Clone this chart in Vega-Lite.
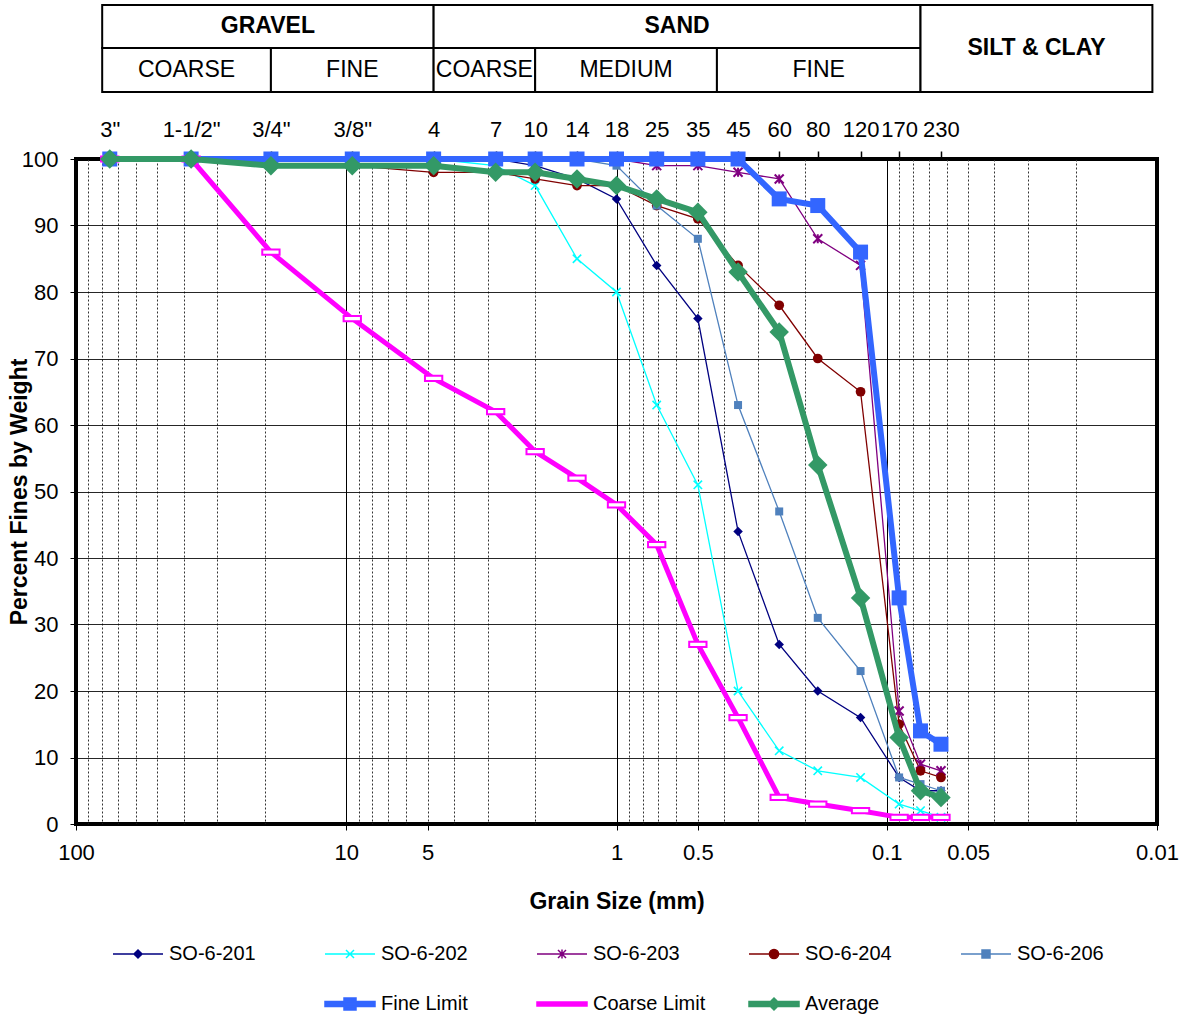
{
  "$schema": "https://vega.github.io/schema/vega-lite/v6.json",
  "autosize": "none",
  "width": 1081,
  "height": 665,
  "padding": {"left": 76, "top": 159, "right": 30, "bottom": 193},
  "background": "white",
  "config": {
    "view": {"stroke": "#000", "strokeWidth": 4},
    "axis": {"labelFont": "Liberation Sans", "labelFontSize": 22, "labelColor": "#000", "titleFont": "Liberation Sans", "titleFontSize": 23, "titleFontWeight": "bold", "titleColor": "#000", "tickColor": "#000", "domain": false, "labelOverlap": false, "labelFlush": false, "labelBound": false},
    "text": {"font": "Liberation Sans", "color": "#000"}
  },
  "datasets": {
    "grad": [
      {"series": "Fine Limit", "mm": 75, "pct": 100}, {"series": "Fine Limit", "mm": 37.5, "pct": 100}, {"series": "Fine Limit", "mm": 19, "pct": 100}, {"series": "Fine Limit", "mm": 9.5, "pct": 100}, {"series": "Fine Limit", "mm": 4.75, "pct": 100}, {"series": "Fine Limit", "mm": 2.8, "pct": 100}, {"series": "Fine Limit", "mm": 2, "pct": 100}, {"series": "Fine Limit", "mm": 1.4, "pct": 100}, {"series": "Fine Limit", "mm": 1, "pct": 100}, {"series": "Fine Limit", "mm": 0.71, "pct": 100}, {"series": "Fine Limit", "mm": 0.5, "pct": 100}, {"series": "Fine Limit", "mm": 0.355, "pct": 100}, {"series": "Fine Limit", "mm": 0.25, "pct": 94}, {"series": "Fine Limit", "mm": 0.18, "pct": 93}, {"series": "Fine Limit", "mm": 0.125, "pct": 86}, {"series": "Fine Limit", "mm": 0.09, "pct": 34}, {"series": "Fine Limit", "mm": 0.075, "pct": 14}, {"series": "Fine Limit", "mm": 0.063, "pct": 12},
      {"series": "Coarse Limit", "mm": 75, "pct": 100}, {"series": "Coarse Limit", "mm": 37.5, "pct": 100}, {"series": "Coarse Limit", "mm": 19, "pct": 86}, {"series": "Coarse Limit", "mm": 9.5, "pct": 76}, {"series": "Coarse Limit", "mm": 4.75, "pct": 67}, {"series": "Coarse Limit", "mm": 2.8, "pct": 62}, {"series": "Coarse Limit", "mm": 2, "pct": 56}, {"series": "Coarse Limit", "mm": 1.4, "pct": 52}, {"series": "Coarse Limit", "mm": 1, "pct": 48}, {"series": "Coarse Limit", "mm": 0.71, "pct": 42}, {"series": "Coarse Limit", "mm": 0.5, "pct": 27}, {"series": "Coarse Limit", "mm": 0.355, "pct": 16}, {"series": "Coarse Limit", "mm": 0.25, "pct": 4}, {"series": "Coarse Limit", "mm": 0.18, "pct": 3}, {"series": "Coarse Limit", "mm": 0.125, "pct": 2}, {"series": "Coarse Limit", "mm": 0.09, "pct": 1}, {"series": "Coarse Limit", "mm": 0.075, "pct": 1}, {"series": "Coarse Limit", "mm": 0.063, "pct": 1},
      {"series": "Average", "mm": 75, "pct": 100}, {"series": "Average", "mm": 37.5, "pct": 100}, {"series": "Average", "mm": 19, "pct": 99}, {"series": "Average", "mm": 9.5, "pct": 99}, {"series": "Average", "mm": 4.75, "pct": 99}, {"series": "Average", "mm": 2.8, "pct": 98}, {"series": "Average", "mm": 2, "pct": 98}, {"series": "Average", "mm": 1.4, "pct": 97}, {"series": "Average", "mm": 1, "pct": 96}, {"series": "Average", "mm": 0.71, "pct": 94}, {"series": "Average", "mm": 0.5, "pct": 92}, {"series": "Average", "mm": 0.355, "pct": 83}, {"series": "Average", "mm": 0.25, "pct": 74}, {"series": "Average", "mm": 0.18, "pct": 54}, {"series": "Average", "mm": 0.125, "pct": 34}, {"series": "Average", "mm": 0.09, "pct": 13}, {"series": "Average", "mm": 0.075, "pct": 5}, {"series": "Average", "mm": 0.063, "pct": 4},
      {"series": "SO-6-201", "mm": 37.5, "pct": 100}, {"series": "SO-6-201", "mm": 19, "pct": 100}, {"series": "SO-6-201", "mm": 9.5, "pct": 100}, {"series": "SO-6-201", "mm": 4.75, "pct": 100}, {"series": "SO-6-201", "mm": 2.8, "pct": 100}, {"series": "SO-6-201", "mm": 2, "pct": 99}, {"series": "SO-6-201", "mm": 1.4, "pct": 97}, {"series": "SO-6-201", "mm": 1, "pct": 94}, {"series": "SO-6-201", "mm": 0.71, "pct": 84}, {"series": "SO-6-201", "mm": 0.5, "pct": 76}, {"series": "SO-6-201", "mm": 0.355, "pct": 44}, {"series": "SO-6-201", "mm": 0.25, "pct": 27}, {"series": "SO-6-201", "mm": 0.18, "pct": 20}, {"series": "SO-6-201", "mm": 0.125, "pct": 16}, {"series": "SO-6-201", "mm": 0.09, "pct": 7}, {"series": "SO-6-201", "mm": 0.075, "pct": 5}, {"series": "SO-6-201", "mm": 0.063, "pct": 5},
      {"series": "SO-6-202", "mm": 37.5, "pct": 100}, {"series": "SO-6-202", "mm": 19, "pct": 100}, {"series": "SO-6-202", "mm": 9.5, "pct": 100}, {"series": "SO-6-202", "mm": 4.75, "pct": 100}, {"series": "SO-6-202", "mm": 2.8, "pct": 99}, {"series": "SO-6-202", "mm": 2, "pct": 96}, {"series": "SO-6-202", "mm": 1.4, "pct": 85}, {"series": "SO-6-202", "mm": 1, "pct": 80}, {"series": "SO-6-202", "mm": 0.71, "pct": 63}, {"series": "SO-6-202", "mm": 0.5, "pct": 51}, {"series": "SO-6-202", "mm": 0.355, "pct": 20}, {"series": "SO-6-202", "mm": 0.25, "pct": 11}, {"series": "SO-6-202", "mm": 0.18, "pct": 8}, {"series": "SO-6-202", "mm": 0.125, "pct": 7}, {"series": "SO-6-202", "mm": 0.09, "pct": 3}, {"series": "SO-6-202", "mm": 0.075, "pct": 2}, {"series": "SO-6-202", "mm": 0.063, "pct": 1},
      {"series": "SO-6-203", "mm": 37.5, "pct": 100}, {"series": "SO-6-203", "mm": 19, "pct": 100}, {"series": "SO-6-203", "mm": 9.5, "pct": 100}, {"series": "SO-6-203", "mm": 4.75, "pct": 100}, {"series": "SO-6-203", "mm": 2.8, "pct": 100}, {"series": "SO-6-203", "mm": 2, "pct": 100}, {"series": "SO-6-203", "mm": 1.4, "pct": 100}, {"series": "SO-6-203", "mm": 1, "pct": 100}, {"series": "SO-6-203", "mm": 0.71, "pct": 99}, {"series": "SO-6-203", "mm": 0.5, "pct": 99}, {"series": "SO-6-203", "mm": 0.355, "pct": 98}, {"series": "SO-6-203", "mm": 0.25, "pct": 97}, {"series": "SO-6-203", "mm": 0.18, "pct": 88}, {"series": "SO-6-203", "mm": 0.125, "pct": 84}, {"series": "SO-6-203", "mm": 0.09, "pct": 17}, {"series": "SO-6-203", "mm": 0.075, "pct": 9}, {"series": "SO-6-203", "mm": 0.063, "pct": 8},
      {"series": "SO-6-204", "mm": 37.5, "pct": 100}, {"series": "SO-6-204", "mm": 19, "pct": 99}, {"series": "SO-6-204", "mm": 9.5, "pct": 99}, {"series": "SO-6-204", "mm": 4.75, "pct": 98}, {"series": "SO-6-204", "mm": 2.8, "pct": 98}, {"series": "SO-6-204", "mm": 2, "pct": 97}, {"series": "SO-6-204", "mm": 1.4, "pct": 96}, {"series": "SO-6-204", "mm": 1, "pct": 96}, {"series": "SO-6-204", "mm": 0.71, "pct": 93}, {"series": "SO-6-204", "mm": 0.5, "pct": 91}, {"series": "SO-6-204", "mm": 0.355, "pct": 84}, {"series": "SO-6-204", "mm": 0.25, "pct": 78}, {"series": "SO-6-204", "mm": 0.18, "pct": 70}, {"series": "SO-6-204", "mm": 0.125, "pct": 65}, {"series": "SO-6-204", "mm": 0.09, "pct": 15}, {"series": "SO-6-204", "mm": 0.075, "pct": 8}, {"series": "SO-6-204", "mm": 0.063, "pct": 7},
      {"series": "SO-6-206", "mm": 37.5, "pct": 100}, {"series": "SO-6-206", "mm": 19, "pct": 100}, {"series": "SO-6-206", "mm": 9.5, "pct": 100}, {"series": "SO-6-206", "mm": 4.75, "pct": 100}, {"series": "SO-6-206", "mm": 2.8, "pct": 100}, {"series": "SO-6-206", "mm": 2, "pct": 100}, {"series": "SO-6-206", "mm": 1.4, "pct": 100}, {"series": "SO-6-206", "mm": 1, "pct": 99}, {"series": "SO-6-206", "mm": 0.71, "pct": 93}, {"series": "SO-6-206", "mm": 0.5, "pct": 88}, {"series": "SO-6-206", "mm": 0.355, "pct": 63}, {"series": "SO-6-206", "mm": 0.25, "pct": 47}, {"series": "SO-6-206", "mm": 0.18, "pct": 31}, {"series": "SO-6-206", "mm": 0.125, "pct": 23}, {"series": "SO-6-206", "mm": 0.09, "pct": 7}, {"series": "SO-6-206", "mm": 0.075, "pct": 6}, {"series": "SO-6-206", "mm": 0.063, "pct": 5}
    ],
    "table": [
      {"label": "GRAVEL", "tier": "top", "from": 80, "to": 4.75},
      {"label": "SAND", "tier": "top", "from": 4.75, "to": 0.075},
      {"label": "COARSE", "tier": "bottom", "from": 80, "to": 19},
      {"label": "FINE", "tier": "bottom", "from": 19, "to": 4.75},
      {"label": "COARSE", "tier": "bottom", "from": 4.75, "to": 2},
      {"label": "MEDIUM", "tier": "bottom", "from": 2, "to": 0.425},
      {"label": "FINE", "tier": "bottom", "from": 0.425, "to": 0.075},
      {"label": "SILT & CLAY", "tier": "full", "from": 0.075, "to": 0.0104}
    ],
    "none": []
  },
  "resolve": {"axis": {"x": "independent"}},
  "layer": [
    {
      "data": {"name": "grad"},
      "transform": [{"filter": {"field": "series", "oneOf": ["SO-6-201", "SO-6-202", "SO-6-203", "SO-6-204", "SO-6-206"]}}],
      "mark": {"type": "line", "strokeWidth": 1.3},
      "encoding": {
        "x": {"field": "mm", "type": "quantitative", "scale": {"type": "log", "domain": [0.01, 100], "reverse": true, "nice": false},
          "axis": {"orient": "bottom", "values": [100, 10, 5, 1, 0.5, 0.1, 0.05, 0.01], "format": "~g", "grid": false, "ticks": true, "tickSize": 6, "labelPadding": 12, "title": "Grain Size (mm)", "titlePadding": 27}},
        "y": {"field": "pct", "type": "quantitative", "scale": {"domain": [0, 100], "nice": false},
          "axis": {"values": [0, 10, 20, 30, 40, 50, 60, 70, 80, 90, 100], "grid": true, "gridColor": "#000", "gridWidth": 1, "gridOpacity": 0.85, "ticks": true, "tickSize": 6, "labelPadding": 12, "title": "Percent Fines by Weight", "titlePadding": -10}},
        "color": {"field": "series", "type": "nominal", "legend": null,
          "scale": {"domain": ["SO-6-201", "SO-6-202", "SO-6-203", "SO-6-204", "SO-6-206"], "range": ["#000080", "#00FFFF", "#800080", "#800000", "#4F81BD"]}}
      }
    },
    {
      "data": {"name": "grad"},
      "transform": [{"filter": {"field": "series", "equal": "SO-6-201"}}],
      "mark": {"type": "point", "shape": "diamond", "filled": true, "color": "#000080", "size": 90, "opacity": 1},
      "encoding": {
        "x": {"field": "mm", "type": "quantitative", "scale": {"type": "log", "domain": [0.01, 100], "reverse": true, "nice": false},
          "axis": {"orient": "bottom", "values": [10, 1, 0.1], "grid": true, "gridColor": "#000", "gridWidth": 1, "labels": false, "ticks": false, "title": null}},
        "y": {"field": "pct", "type": "quantitative", "scale": {"domain": [0, 100], "nice": false}}
      }
    },
    {
      "data": {"name": "grad"},
      "transform": [{"filter": {"field": "series", "equal": "SO-6-202"}}],
      "mark": {"type": "point", "shape": "M-1,-1L1,1M-1,1L1,-1", "filled": false, "color": "#00FFFF", "size": 70, "strokeWidth": 1.6, "opacity": 1},
      "encoding": {
        "x": {"field": "mm", "type": "quantitative", "scale": {"type": "log", "domain": [0.01, 100], "reverse": true, "nice": false},
          "axis": {"orient": "bottom", "values": [90, 80, 70, 60, 50, 40, 30, 20, 9, 8, 7, 6, 5, 4, 3, 2, 0.9, 0.8, 0.7, 0.6, 0.5, 0.4, 0.3, 0.2, 0.09, 0.08, 0.07, 0.06, 0.05, 0.04, 0.03, 0.02], "grid": true, "gridColor": "#333", "gridDash": [2, 2], "gridWidth": 1, "labels": false, "ticks": false, "title": null}},
        "y": {"field": "pct", "type": "quantitative", "scale": {"domain": [0, 100], "nice": false}}
      }
    },
    {
      "data": {"name": "grad"},
      "transform": [{"filter": {"field": "series", "equal": "SO-6-203"}}],
      "mark": {"type": "point", "shape": "M-1,-1L1,1M-1,1L1,-1M0,-1L0,1", "filled": false, "color": "#800080", "size": 81, "strokeWidth": 2, "opacity": 1},
      "encoding": {
        "x": {"field": "mm", "type": "quantitative", "scale": {"type": "log", "domain": [0.01, 100], "reverse": true, "nice": false}, "axis": null},
        "y": {"field": "pct", "type": "quantitative", "scale": {"domain": [0, 100], "nice": false}}
      }
    },
    {
      "data": {"name": "grad"},
      "transform": [{"filter": {"field": "series", "equal": "SO-6-204"}}],
      "mark": {"type": "point", "shape": "circle", "filled": true, "color": "#800000", "size": 95, "opacity": 1},
      "encoding": {
        "x": {"field": "mm", "type": "quantitative", "scale": {"type": "log", "domain": [0.01, 100], "reverse": true, "nice": false}, "axis": null},
        "y": {"field": "pct", "type": "quantitative", "scale": {"domain": [0, 100], "nice": false}}
      }
    },
    {
      "data": {"name": "grad"},
      "transform": [{"filter": {"field": "series", "equal": "SO-6-206"}}],
      "mark": {"type": "point", "shape": "square", "filled": true, "color": "#4F81BD", "size": 64, "opacity": 1},
      "encoding": {
        "x": {"field": "mm", "type": "quantitative", "scale": {"type": "log", "domain": [0.01, 100], "reverse": true, "nice": false}, "axis": null},
        "y": {"field": "pct", "type": "quantitative", "scale": {"domain": [0, 100], "nice": false}}
      }
    },
    {
      "data": {"name": "grad"},
      "transform": [{"filter": {"field": "series", "equal": "Fine Limit"}}],
      "mark": {"type": "line", "color": "#3366FF", "strokeWidth": 6},
      "encoding": {
        "x": {"field": "mm", "type": "quantitative", "scale": {"type": "log", "domain": [0.01, 100], "reverse": true, "nice": false},
          "axis": {"orient": "top", "values": [75, 37.5, 19, 9.5, 4.75, 2.8, 2, 1.4, 1, 0.71, 0.5, 0.355, 0.25, 0.18, 0.125, 0.09, 0.063], "grid": false, "ticks": true, "tickSize": 8, "tickWidth": 1.5, "labelPadding": 10, "title": null,
            "labelExpr": "datum.value==75?'3\"':datum.value==37.5?'1-1/2\"':datum.value==19?'3/4\"':datum.value==9.5?'3/8\"':datum.value==4.75?'4':datum.value==2.8?'7':datum.value==2?'10':datum.value==1.4?'14':datum.value==1?'18':datum.value==0.71?'25':datum.value==0.5?'35':datum.value==0.355?'45':datum.value==0.25?'60':datum.value==0.18?'80':datum.value==0.125?'120':datum.value==0.09?'170':datum.value==0.063?'230':''"}},
        "y": {"field": "pct", "type": "quantitative", "scale": {"domain": [0, 100], "nice": false}}
      }
    },
    {
      "data": {"name": "grad"},
      "transform": [{"filter": {"field": "series", "equal": "Fine Limit"}}],
      "mark": {"type": "point", "shape": "square", "filled": true, "color": "#3366FF", "size": 225, "opacity": 1},
      "encoding": {
        "x": {"field": "mm", "type": "quantitative", "scale": {"type": "log", "domain": [0.01, 100], "reverse": true, "nice": false}, "axis": null},
        "y": {"field": "pct", "type": "quantitative", "scale": {"domain": [0, 100], "nice": false}}
      }
    },
    {
      "data": {"name": "grad"},
      "transform": [{"filter": {"field": "series", "equal": "Coarse Limit"}}],
      "mark": {"type": "line", "color": "#FF00FF", "strokeWidth": 5},
      "encoding": {
        "x": {"field": "mm", "type": "quantitative", "scale": {"type": "log", "domain": [0.01, 100], "reverse": true, "nice": false}, "axis": null},
        "y": {"field": "pct", "type": "quantitative", "scale": {"domain": [0, 100], "nice": false}}
      }
    },
    {
      "data": {"name": "grad"},
      "transform": [{"filter": {"field": "series", "equal": "Coarse Limit"}}],
      "mark": {"type": "point", "shape": "M-1,-0.3H1V0.3H-1Z", "fill": "white", "stroke": "#FF00FF", "strokeWidth": 2, "size": 300, "opacity": 1},
      "encoding": {
        "x": {"field": "mm", "type": "quantitative", "scale": {"type": "log", "domain": [0.01, 100], "reverse": true, "nice": false}, "axis": null},
        "y": {"field": "pct", "type": "quantitative", "scale": {"domain": [0, 100], "nice": false}}
      }
    },
    {
      "data": {"name": "grad"},
      "transform": [{"filter": {"field": "series", "equal": "Average"}}],
      "mark": {"type": "line", "color": "#339966", "strokeWidth": 6},
      "encoding": {
        "x": {"field": "mm", "type": "quantitative", "scale": {"type": "log", "domain": [0.01, 100], "reverse": true, "nice": false}, "axis": null},
        "y": {"field": "pct", "type": "quantitative", "scale": {"domain": [0, 100], "nice": false}}
      }
    },
    {
      "data": {"name": "grad"},
      "transform": [{"filter": {"field": "series", "equal": "Average"}}],
      "mark": {"type": "point", "shape": "diamond", "filled": true, "color": "#339966", "size": 380, "opacity": 1},
      "encoding": {
        "x": {"field": "mm", "type": "quantitative", "scale": {"type": "log", "domain": [0.01, 100], "reverse": true, "nice": false}, "axis": null},
        "y": {"field": "pct", "type": "quantitative", "scale": {"domain": [0, 100], "nice": false}}
      }
    },
    {
      "data": {"name": "table"},
      "transform": [{"filter": {"field": "tier", "equal": "top"}}],
      "mark": {"type": "rect", "fill": "white", "stroke": "#000", "strokeWidth": 2, "clip": false},
      "encoding": {
        "x": {"field": "from", "type": "quantitative", "scale": {"type": "log", "domain": [0.01, 100], "reverse": true, "nice": false}, "axis": null},
        "x2": {"field": "to"},
        "y": {"datum": 123.16, "type": "quantitative", "scale": {"domain": [0, 100], "nice": false}},
        "y2": {"datum": 116.7}
      }
    },
    {
      "data": {"name": "table"},
      "transform": [{"filter": {"field": "tier", "equal": "bottom"}}],
      "mark": {"type": "rect", "fill": "white", "stroke": "#000", "strokeWidth": 2, "clip": false},
      "encoding": {
        "x": {"field": "from", "type": "quantitative", "scale": {"type": "log", "domain": [0.01, 100], "reverse": true, "nice": false}, "axis": null},
        "x2": {"field": "to"},
        "y": {"datum": 116.7, "type": "quantitative", "scale": {"domain": [0, 100], "nice": false}},
        "y2": {"datum": 110.08}
      }
    },
    {
      "data": {"name": "table"},
      "transform": [{"filter": {"field": "tier", "equal": "full"}}],
      "mark": {"type": "rect", "fill": "white", "stroke": "#000", "strokeWidth": 2, "clip": false},
      "encoding": {
        "x": {"field": "from", "type": "quantitative", "scale": {"type": "log", "domain": [0.01, 100], "reverse": true, "nice": false}, "axis": null},
        "x2": {"field": "to"},
        "y": {"datum": 123.16, "type": "quantitative", "scale": {"domain": [0, 100], "nice": false}},
        "y2": {"datum": 110.08}
      }
    },
    {
      "data": {"name": "table"},
      "transform": [{"filter": {"field": "tier", "equal": "top"}}, {"calculate": "sqrt(datum.from*datum.to)", "as": "mid"}],
      "mark": {"type": "text", "fontSize": 23, "fontWeight": "bold", "align": "center", "baseline": "middle", "clip": false},
      "encoding": {
        "x": {"field": "mid", "type": "quantitative", "scale": {"type": "log", "domain": [0.01, 100], "reverse": true, "nice": false}, "axis": null},
        "y": {"datum": 119.93, "type": "quantitative", "scale": {"domain": [0, 100], "nice": false}},
        "text": {"field": "label"}
      }
    },
    {
      "data": {"name": "table"},
      "transform": [{"filter": {"field": "tier", "equal": "bottom"}}, {"calculate": "sqrt(datum.from*datum.to)", "as": "mid"}],
      "mark": {"type": "text", "fontSize": 23, "align": "center", "baseline": "middle", "clip": false},
      "encoding": {
        "x": {"field": "mid", "type": "quantitative", "scale": {"type": "log", "domain": [0.01, 100], "reverse": true, "nice": false}, "axis": null},
        "y": {"datum": 113.39, "type": "quantitative", "scale": {"domain": [0, 100], "nice": false}},
        "text": {"field": "label"}
      }
    },
    {
      "data": {"name": "table"},
      "transform": [{"filter": {"field": "tier", "equal": "full"}}, {"calculate": "sqrt(datum.from*datum.to)", "as": "mid"}],
      "mark": {"type": "text", "fontSize": 23, "fontWeight": "bold", "align": "center", "baseline": "middle", "clip": false},
      "encoding": {
        "x": {"field": "mid", "type": "quantitative", "scale": {"type": "log", "domain": [0.01, 100], "reverse": true, "nice": false}, "axis": null},
        "y": {"datum": 116.62, "type": "quantitative", "scale": {"domain": [0, 100], "nice": false}},
        "text": {"field": "label"}
      }
    },
    {
      "data": {"name": "none"},
      "mark": {"type": "point", "filled": true, "opacity": 1, "size": 1600},
      "encoding": {
        "shape": {"field": "series", "type": "nominal",
          "scale": {"domain": ["SO-6-201", "SO-6-202", "SO-6-203", "SO-6-204", "SO-6-206", " ", "Fine Limit", "Coarse Limit", "Average"],
            "range": [
              "M-1.25,0H1.25M0,-0.2L0.2,0L0,0.2L-0.2,0Z",
              "M-1.25,0H1.25M-0.2,-0.2L0.2,0.2M-0.2,0.2L0.2,-0.2",
              "M-1.25,0H1.25M-0.2,-0.2L0.2,0.2M-0.2,0.2L0.2,-0.2M0,-0.22L0,0.22",
              "M-1.25,0H1.25M-0.23,0A0.23,0.23,0,1,0,0.23,0A0.23,0.23,0,1,0,-0.23,0Z",
              "M-1.25,0H1.25M-0.2,-0.2H0.2V0.2H-0.2Z",
              "M0,0",
              "M-1.25,-0.12H1.25V0.12H-1.25ZM-0.3,-0.3H0.3V0.3H-0.3Z",
              "M-1.25,-0.1H1.25V0.1H-1.25Z",
              "M-1.25,-0.12H1.25V0.12H-1.25ZM0,-0.3L0.3,0L0,0.3L-0.3,0Z"
            ]},
          "legend": {"orient": "none", "legendX": 41, "legendY": 774, "direction": "horizontal", "columns": 5, "title": null, "labelFont": "Liberation Sans", "labelFontSize": 20, "labelColor": "#000", "labelOffset": 10, "columnPadding": 40, "rowPadding": 19, "gridAlign": "all", "symbolSize": 1600, "labelLimit": 400, "padding": 0}},
        "fill": {"field": "series", "type": "nominal",
          "scale": {"domain": ["SO-6-201", "SO-6-202", "SO-6-203", "SO-6-204", "SO-6-206", " ", "Fine Limit", "Coarse Limit", "Average"], "range": ["#000080", "#00FFFF", "#800080", "#800000", "#4F81BD", "#FFFFFF", "#3366FF", "#FF00FF", "#339966"]}},
        "stroke": {"field": "series", "type": "nominal",
          "scale": {"domain": ["SO-6-201", "SO-6-202", "SO-6-203", "SO-6-204", "SO-6-206", " ", "Fine Limit", "Coarse Limit", "Average"], "range": ["#000080", "#00FFFF", "#800080", "#800000", "#4F81BD", "#FFFFFF", "#3366FF", "#FF00FF", "#339966"]}}
      }
    }
  ]
}
